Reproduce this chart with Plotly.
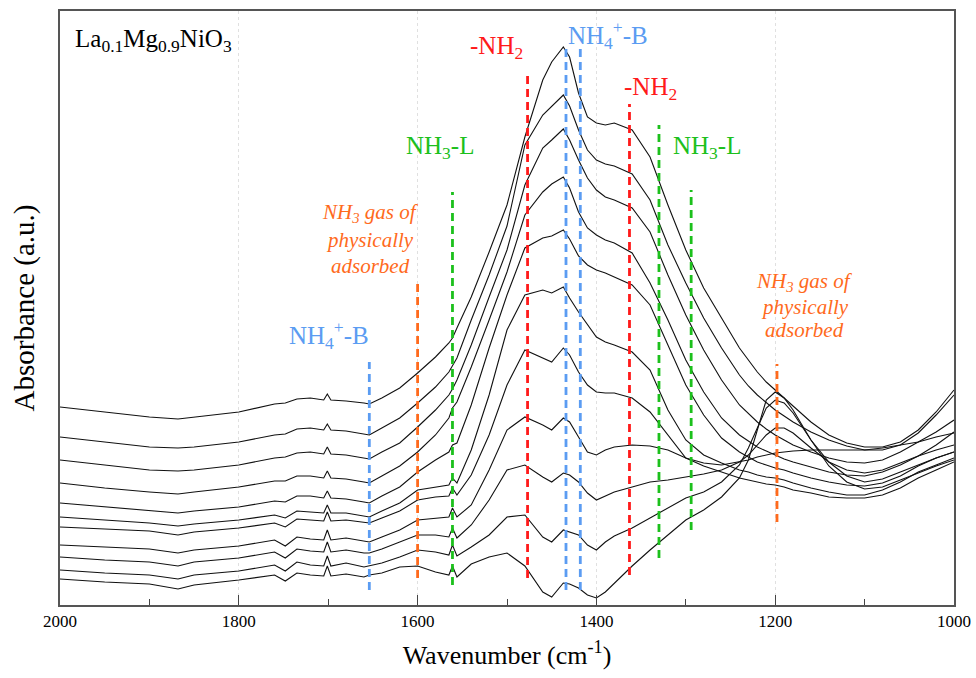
import plotly.graph_objects as go

# Wavenumber grid (cm^-1) shared by all spectra
WAVENUMBER = [2000, 1950, 1900, 1868, 1850, 1800, 1760, 1748, 1735, 1720,
              1705, 1701, 1697, 1680, 1660, 1654, 1640, 1620, 1600, 1580,
              1565, 1561, 1556, 1540, 1520, 1500, 1480, 1460, 1450, 1437,
              1430, 1420, 1410, 1400, 1390, 1380, 1360, 1340, 1320, 1300,
              1280, 1260, 1240, 1230, 1220, 1210, 1200, 1190, 1180, 1160,
              1140, 1120, 1100, 1080, 1060, 1040, 1020, 1000]

# Absorbance (a.u., stacked) of the spectra, top to bottom
SPEC_0 = [198, 193, 188, 186, 188, 193, 201, 202, 206, 207, 205, 211, 205, 204, 202, 201, 207, 217, 232, 248,
          262, 267, 277, 308, 353, 400, 468, 525, 543, 558, 548, 512, 488, 482, 480, 482, 475, 448, 400, 355,
          317, 287, 257, 245, 233, 223, 215, 206, 198, 183, 170, 162, 158, 158, 163, 175, 193, 215]
SPEC_1 = [168, 163, 158, 157, 158, 163, 170, 171, 176, 177, 175, 181, 175, 174, 171, 170, 177, 187, 202, 218,
          233, 239, 247, 285, 330, 379, 460, 490, 499, 510, 499, 475, 455, 445, 441, 439, 431, 405, 360, 322,
          287, 257, 230, 219, 210, 202, 195, 189, 183, 173, 165, 159, 155, 155, 160, 172, 190, 210]
SPEC_2 = [145, 140, 135, 134, 135, 140, 147, 148, 152, 153, 151, 158, 151, 150, 147, 146, 153, 162, 178, 195,
          210, 216, 225, 260, 308, 355, 420, 457, 465, 476, 465, 445, 427, 415, 408, 405, 397, 373, 330, 290,
          255, 225, 200, 191, 183, 176, 170, 165, 160, 153, 147, 143, 142, 145, 153, 163, 173, 185]
SPEC_3 = [122, 117, 113, 111, 113, 118, 124, 124, 129, 129, 127, 134, 127, 126, 123, 122, 129, 139, 153, 170,
          187, 197, 203, 238, 285, 333, 390, 413, 421, 428, 417, 393, 377, 370, 365, 362, 352, 322, 285, 245,
          213, 187, 170, 164, 158, 154, 150, 146, 143, 138, 133, 130, 129, 133, 140, 149, 160, 173]
SPEC_4 = [102, 98, 94, 92, 94, 98, 104, 103, 109, 109, 107, 114, 107, 106, 103, 102, 109, 118, 133, 145,
          153, 160, 162, 200, 257, 310, 357, 367, 369, 375, 366, 349, 340, 335, 332, 328, 320, 300, 260, 220,
          190, 167, 153, 148, 143, 140, 137, 135, 132, 127, 123, 120, 119, 122, 129, 139, 147, 153]
SPEC_5 = [88, 85, 82, 79, 81, 85, 90, 87, 94, 93, 92, 100, 92, 92, 89, 88, 94, 102, 115, 118,
          120, 127, 122, 155, 210, 275, 310, 315, 312, 318, 307, 293, 280, 268, 263, 260, 253, 235, 195, 165,
          150, 142, 135, 133, 130, 128, 127, 125, 122, 117, 113, 110, 110, 115, 123, 133, 140, 147]
SPEC_6 = [78, 76, 74, 70, 73, 77, 82, 78, 86, 85, 84, 93, 84, 85, 83, 82, 87, 94, 105, 108,
          109, 117, 110, 130, 170, 220, 255, 247, 243, 257, 250, 233, 220, 213, 212, 212, 207, 193, 170, 147,
          139, 133, 127, 125, 123, 121, 120, 118, 115, 112, 108, 107, 107, 110, 117, 127, 135, 143]
SPEC_7 = [60, 58, 56, 52, 55, 59, 65, 59, 68, 66, 65, 75, 65, 67, 64, 63, 68, 75, 85, 87,
          88, 97, 88, 100, 135, 175, 188, 180, 175, 187, 183, 168, 153, 150, 155, 158, 160, 159, 155, 147,
          142, 140, 143, 145, 148, 150, 152, 153, 154, 155, 155, 155, 155, 157, 160, 163, 168, 172]
SPEC_8 = [48, 45, 43, 39, 43, 47, 53, 47, 56, 54, 53, 63, 53, 55, 52, 52, 56, 63, 70, 70,
          68, 77, 67, 80, 105, 135, 140, 128, 123, 132, 130, 123, 112, 105, 109, 113, 118, 123, 125, 128,
          131, 135, 143, 150, 160, 170, 177, 177, 172, 157, 143, 135, 132, 135, 142, 149, 155, 160]
SPEC_9 = [35, 32, 30, 26, 30, 34, 40, 34, 43, 40, 39, 49, 39, 42, 38, 39, 42, 48, 55, 53,
          50, 60, 49, 58, 70, 88, 90, 68, 63, 75, 73, 70, 60, 55, 63, 69, 77, 87, 97, 107,
          113, 123, 140, 157, 177, 197, 205, 202, 192, 165, 143, 129, 123, 126, 133, 140, 147, 153]
SPEC_10 = [26, 23, 21, 16, 20, 25, 30, 24, 32, 30, 29, 39, 29, 31, 28, 30, 32, 38, 39, 33,
           30, 39, 28, 41, 48, 52, 39, 13, 8, 22, 21, 17, 10, 7, 13, 22, 39, 55, 70, 85,
           95, 108, 127, 145, 175, 205, 213, 207, 195, 165, 139, 123, 116, 118, 125, 132, 139, 145]
SPECTRA = [SPEC_0, SPEC_1, SPEC_2, SPEC_3, SPEC_4, SPEC_5, SPEC_6, SPEC_7, SPEC_8, SPEC_9, SPEC_10]

# Band marker lines: wavenumber, lower and upper absorbance extent, colour
MARK_WN = [1654, 1600, 1561, 1477, 1434, 1418, 1363, 1330, 1294, 1198]
MARK_LOW = [15, 27, 20, 27, 15, 15, 30, 47, 75, 83]
MARK_HIGH = [243, 325, 413, 533, 560, 560, 501, 480, 415, 241]

BLUE, RED, GREEN, ORANGE = "#5b9cf2", "#ff1a1a", "#1cc01c", "#ff6a1c"
MARK_COLOR = [BLUE, ORANGE, GREEN, RED, BLUE, BLUE, RED, GREEN, GREEN, ORANGE]

X_TICKS = [2000, 1800, 1600, 1400, 1200, 1000]

FONT = "'Times New Roman', 'Liberation Serif', serif"

fig = go.Figure()

for spec in SPECTRA:
    fig.add_trace(go.Scatter(x=WAVENUMBER, y=spec, mode="lines",
                             line=dict(color="#111111", width=1.1),
                             showlegend=False, hoverinfo="skip"))

for wn, lo, hi, col in zip(MARK_WN, MARK_LOW, MARK_HIGH, MARK_COLOR):
    fig.add_trace(go.Scatter(x=[wn, wn], y=[lo, hi], mode="lines",
                             line=dict(color=col, width=2.8, dash="8px,5px"),
                             showlegend=False, hoverinfo="skip"))

labels = [
    (1985.5, 565, "La<sub>0.1</sub>Mg<sub>0.9</sub>NiO<sub>3</sub>", "black", "left"),
    (1699, 270, "NH<sub>4</sub><sup>+</sup>-B", BLUE, "center"),
    (1575, 458, "NH<sub>3</sub>-L", GREEN, "center"),
    (1512, 558, "-NH<sub>2</sub>", RED, "center"),
    (1387, 570, "NH<sub>4</sub><sup>+</sup>-B", BLUE, "center"),
    (1340, 517, "-NH<sub>2</sub>", RED, "center"),
    (1276, 458, "NH<sub>3</sub>-L", GREEN, "center"),
]
for x, y, t, c, xa in labels:
    fig.add_annotation(x=x, y=y, text=t, showarrow=False, xanchor=xa, yanchor="middle",
                       font=dict(family=FONT, size=25, color=c))

GAS_LINES = ["<i>NH<sub>3</sub> gas of</i>", "<i>physically</i>", "<i>adsorbed</i>"]
for cx, ys in [(1653, [392, 365, 339]), (1167, [323, 298, 275])]:
    for t, yv in zip(GAS_LINES, ys):
        fig.add_annotation(x=cx, y=yv, text=t, showarrow=False, xanchor="center",
                           yanchor="middle", font=dict(family=FONT, size=21, color=ORANGE))

fig.update_xaxes(range=[2000, 1000], tickvals=X_TICKS, ticks="inside", ticklen=10,
                 tickwidth=1.2, tickcolor="#444", showline=True, linecolor="#555",
                 linewidth=1.5, mirror=True, showgrid=True, gridcolor="#e0e0e0",
                 griddash="dot", gridwidth=1, zeroline=False, automargin=False,
                 minor=dict(dtick=100, ticks="inside", ticklen=6, tickcolor="#444",
                            showgrid=False),
                 tickfont=dict(family=FONT, size=17, color="black"),
                 title=dict(text="Wavenumber (cm<sup>-1</sup>)", standoff=16,
                            font=dict(family=FONT, size=26, color="black")))
fig.update_yaxes(range=[0, 594], showticklabels=False, ticks="", showgrid=False,
                 zeroline=False, showline=True, linecolor="#555", linewidth=1.5,
                 mirror=True, automargin=False,
                 title=dict(text="Absorbance (a.u.)", standoff=15,
                            font=dict(family=FONT, size=29, color="black")))

fig.update_layout(width=976, height=678, margin=dict(l=60, r=22, t=11, b=73),
                  plot_bgcolor="white", paper_bgcolor="white",
                  font=dict(family=FONT))

fig.write_html("out.html",
               post_script="document.body.style.margin='0';"
                           "document.body.style.overflow='hidden';"
                           "document.documentElement.style.overflow='hidden';")
